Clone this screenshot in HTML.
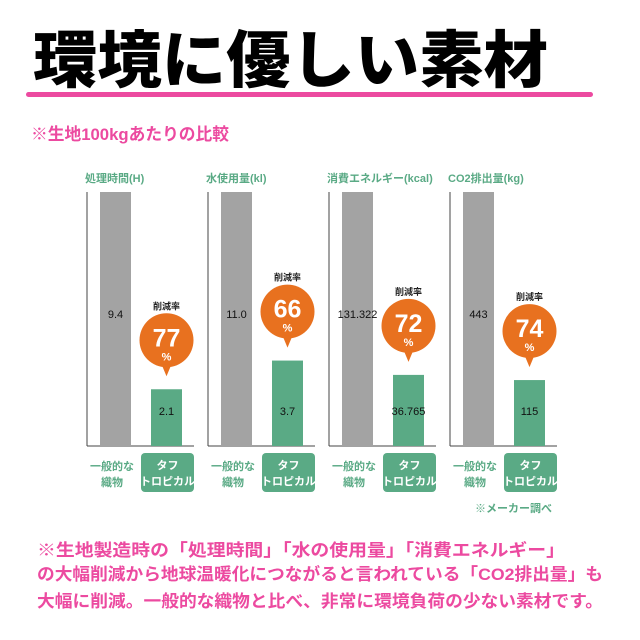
<!DOCTYPE html>
<html><head><meta charset="utf-8"><style>
html,body{margin:0;padding:0;background:#fff;width:640px;height:640px;overflow:hidden}
svg{display:block}
text{font-family:"Liberation Sans","Noto Sans CJK JP",sans-serif}
</style></head><body>
<svg id="chart" width="640" height="640" viewBox="0 0 640 640">
<text x="33" y="82" font-size="62" font-weight="900" fill="#000" textLength="515" lengthAdjust="spacingAndGlyphs">環境に優しい素材</text>
<rect x="26" y="92" width="567" height="5" rx="2.5" fill="#ec4aa0"/>
<text x="31" y="140" font-size="17" font-weight="bold" fill="#ec4aa0" textLength="198" lengthAdjust="spacingAndGlyphs">※生地100kgあたりの比較</text>
<g id="panels"></g>
<text x="475" y="512" font-size="11" font-weight="bold" fill="#5aaa85">※メーカー調べ</text>
<text x="37" y="556" font-size="17" font-weight="bold" fill="#ec4aa0" textLength="528" lengthAdjust="spacingAndGlyphs">※生地製造時の「処理時間」「水の使用量」「消費エネルギー」</text>
<text x="37" y="580" font-size="17" font-weight="bold" fill="#ec4aa0" textLength="566" lengthAdjust="spacingAndGlyphs">の大幅削減から地球温暖化につながると言われている「CO2排出量」も</text>
<text x="37" y="607" font-size="17" font-weight="bold" fill="#ec4aa0" textLength="566" lengthAdjust="spacingAndGlyphs">大幅に削減。一般的な織物と比べ、非常に環境負荷の少ない素材です。</text>
</svg>
<script>
const titles = ["処理時間(H)", "水使用量(kl)", "消費エネルギー(kcal)", "CO2排出量(kg)"];
const generalValues = [9.4, 11.0, 131.322, 443];
const toughValues = [2.1, 3.7, 36.765, 115];
const generalLabels = ["9.4", "11.0", "131.322", "443"];
const toughLabels = ["2.1", "3.7", "36.765", "115"];
const reductionRates = ["77", "66", "72", "74"];

const NS = "http://www.w3.org/2000/svg";
const g = document.getElementById("panels");
const baseY = 446, topY = 192, plotH = baseY - topY;
function yScale(v, max) { return baseY - v / max * plotH; }
function mk(tag, attrs, parent, txt) {
  const e = document.createElementNS(NS, tag);
  for (const k in attrs) e.setAttribute(k, attrs[k]);
  if (txt !== undefined) e.textContent = txt;
  (parent || g).appendChild(e);
  return e;
}
titles.forEach((t, i) => {
  const ax = 87 + i * 121;
  const max = generalValues[i];
  const grp = mk("g", {});
  
  
  const tt = mk("text", {x: ax - 2, y: 182, "font-size": 11, "font-weight": "bold", fill: "#5aaa85"}, grp, t);
  
  
  const ay = mk("line", {x1: ax, y1: topY, x2: ax, y2: baseY, stroke: "#444", "stroke-width": 1}, grp);
  
  
  const axx = mk("line", {x1: ax, y1: baseY, x2: ax + 107, y2: baseY, stroke: "#444", "stroke-width": 1}, grp);
  
  
  // gray bar
  const gy = yScale(generalValues[i], max);
  const gb = mk("rect", {x: ax + 13, y: gy, width: 31, height: baseY - gy, fill: "#a3a3a3"}, grp);
  
  
  const gl = mk("text", {x: ax + 28.5, y: (gy + baseY) / 2 - 1, "font-size": 11, fill: "#111", "text-anchor": "middle"}, grp, generalLabels[i]);
  
  
  // green bar
  const ty = yScale(toughValues[i], max);
  const tb = mk("rect", {x: ax + 64, y: ty, width: 31, height: baseY - ty, fill: "#5aaa85"}, grp);
  
  
  const tl = mk("text", {x: ax + 79.5, y: baseY - 31, "font-size": 11, fill: "#111", "text-anchor": "middle"}, grp, toughLabels[i]);
  
  
  // bubble
  const cx = ax + 79.5, cy = ty - 49;
  const bub = mk("g", {}, grp);
  
  
  mk("circle", {cx: cx, cy: cy, r: 27, fill: "#e8711f"}, bub);
  mk("path", {d: `M${cx - 5} ${cy + 24} L${cx} ${ty - 13} L${cx + 5} ${cy + 24} Z`, fill: "#e8711f"}, bub);
  mk("text", {x: cx, y: cy - 31, "font-size": 9, "font-weight": "bold", fill: "#222", "text-anchor": "middle"}, bub, "削減率");
  const rt = mk("text", {x: cx, y: cy + 6, "font-size": 25, "font-weight": "bold", fill: "#fff", "text-anchor": "middle"}, bub, reductionRates[i]);
  
  
  mk("text", {x: cx, y: cy + 20, "font-size": 11, "font-weight": "bold", fill: "#fff", "text-anchor": "middle"}, bub, "%");
  // category labels
  const c1 = mk("text", {x: ax + 25, y: 470, "font-size": 11, "font-weight": "bold", fill: "#5aaa85", "text-anchor": "middle"}, grp, "一般的な");
  
  
  mk("text", {x: ax + 25, y: 486, "font-size": 11, "font-weight": "bold", fill: "#5aaa85", "text-anchor": "middle"}, grp, "織物");
  const btn = mk("rect", {x: ax + 54, y: 453, width: 53, height: 39, rx: 4, fill: "#5aaa85"}, grp);
  
  
  mk("text", {x: ax + 80.5, y: 469, "font-size": 11, "font-weight": "bold", fill: "#fff", "text-anchor": "middle"}, grp, "タフ");
  mk("text", {x: ax + 80.5, y: 485, "font-size": 11, "font-weight": "bold", fill: "#fff", "text-anchor": "middle"}, grp, "トロピカル");
});
</script>
</body></html>
